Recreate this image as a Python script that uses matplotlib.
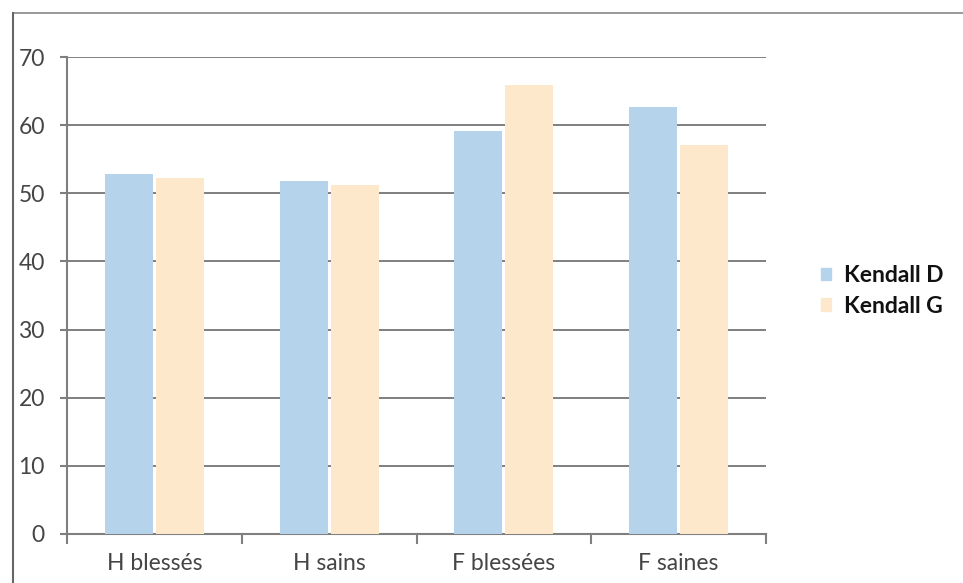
import matplotlib
matplotlib.use("Agg")
import matplotlib.pyplot as plt
import numpy as np
from matplotlib.patches import Rectangle
from matplotlib.lines import Line2D

categories = ["H blessés", "H sains", "F blessées", "F saines"]
series_names = ["Kendall D", "Kendall G"]
kendall_d = [52.9, 51.8, 59.2, 62.7]
kendall_g = [52.2, 51.2, 65.9, 57.1]
y_ticks = [0, 10, 20, 30, 40, 50, 60, 70]

blue = "#b5d4eb"
peach = "#fde8cc"
grid_grey = "#7f7f7f"
text_grey = "#454545"

plt.rcParams["font.family"] = ["Lato", "DejaVu Sans"]

W, H = 963, 583
fig = plt.figure(figsize=(W / 100, H / 100), dpi=100)

# plot area in pixel coordinates
x0, x1 = 67, 766
y_top, y_bot = 57, 534
ax = fig.add_axes([x0 / W, 1 - y_bot / H, (x1 - x0) / W, (y_bot - y_top) / H])

x = np.arange(len(categories))
bw = 0.275
ax.bar(x - bw / 2 - 0.008, kendall_d, width=bw, color=blue, label=series_names[0], zorder=3)
ax.bar(x + bw / 2 + 0.008, kendall_g, width=bw, color=peach, label=series_names[1], zorder=3)

ax.set_xlim(-0.5, len(categories) - 0.5)
ax.set_ylim(0, 70)
ax.set_yticks(y_ticks)
ax.set_yticklabels([str(v) for v in y_ticks], fontsize=16.5, color=text_grey)
ax.set_xticks(x)
ax.set_xticklabels(categories, fontsize=16.5, color=text_grey)
ax.tick_params(axis="x", length=0, pad=14)
ax.tick_params(axis="y", length=5, width=1.5, color=grid_grey, pad=11)

ax.grid(axis="y", color=grid_grey, linewidth=1.4, zorder=1)
for side in ["top", "right"]:
    ax.spines[side].set_visible(False)
ax.spines["left"].set_color(grid_grey)
ax.spines["left"].set_linewidth(1.5)
ax.spines["bottom"].set_color(grid_grey)
ax.spines["bottom"].set_linewidth(1.5)

# category boundary ticks on the bottom axis
for b in np.arange(-0.5, len(categories), 1.0):
    ax.plot([b, b], [0, -1.3], color=grid_grey, lw=1.5, clip_on=False, zorder=4)

# legend
handles = [Rectangle((0, 0), 1, 1, color=blue), Rectangle((0, 0), 1, 1, color=peach)]
leg = fig.legend(handles, series_names, loc="center left",
                 bbox_to_anchor=(800 / W, 1 - 291 / H), frameon=False,
                 prop={"family": ["Lato", "DejaVu Sans"], "weight": "bold", "size": 16.5},
                 handlelength=0.45, handleheight=0.45, handletextpad=0.55, labelspacing=0.4)
for t in leg.get_texts():
    t.set_color("#111111")

# chart frame
fig.add_artist(Line2D([13 / W, 1.0], [1 - 13 / H, 1 - 13 / H], color="#888888", lw=1.2,
                      transform=fig.transFigure))
fig.add_artist(Line2D([13 / W, 13 / W], [0, 1 - 13 / H], color="#666666", lw=1.5,
                      transform=fig.transFigure))

fig.savefig("out.png", dpi=100)
